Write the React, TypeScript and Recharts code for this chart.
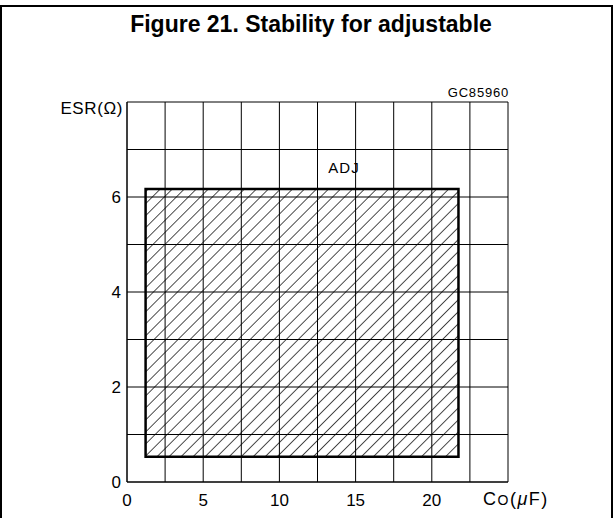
import React from 'react';
import { ComposedChart, Line, XAxis, YAxis, CartesianGrid, ReferenceArea } from 'recharts';

// grid positions (every grid line is an axis tick, only some carry a label)
const cTicks = [0, 2.5, 5, 7.5, 10, 12.5, 15, 17.5, 20, 22.5, 25];
const cLabels = [0, 5, 10, 15, 20];
const esrTicks = [0, 1, 2, 3, 4, 5, 6, 7, 8];
const esrLabels = [0, 2, 4, 6];

// stable region for the adjustable version
const stableC = [1.22, 21.75];
const stableEsr = [0.53, 6.17];

// outline of the region, walked corner by corner
const outline = [
  { c: stableC[0], esr: stableEsr[0] },
  { c: stableC[1], esr: stableEsr[0] },
  { c: stableC[1], esr: stableEsr[1] },
  { c: stableC[0], esr: stableEsr[1] },
  { c: stableC[0], esr: stableEsr[0] },
];

const W = 614;
const H = 518;
const FONT = '"Liberation Sans", Arial, sans-serif';

export default function App() {
  return (
    <div style={{ position: 'absolute', left: 0, top: 0, width: W, height: H, background: '#fff', overflow: 'hidden' }}>
      <svg width={0} height={0} style={{ position: 'absolute' }}>
        <defs>
          <pattern id="hatch" width={8.5} height={8.5} patternUnits="userSpaceOnUse" patternTransform="rotate(45)">
            <line x1={0} y1={0} x2={0} y2={8.5} stroke="#000" strokeWidth={1.4} />
          </pattern>
        </defs>
      </svg>

      {/* figure frame */}
      <div
        style={{
          position: 'absolute',
          left: 0,
          top: 5,
          width: 609,
          height: 520,
          borderTop: '2px solid #000',
          borderLeft: '2px solid #000',
          borderRight: '2px solid #000',
        }}
      />

      <ComposedChart
        width={W}
        height={H}
        data={outline}
        margin={{ top: 102, right: 106, bottom: 6, left: 97 }}
        style={{ position: 'absolute', left: 0, top: 0 }}
      >
        <CartesianGrid stroke="#000" strokeWidth={1} />
        <XAxis
          type="number"
          dataKey="c"
          domain={[0, 25]}
          ticks={cTicks}
          interval={0}
          height={30}
          tickSize={0}
          tickMargin={12}
          axisLine={{ stroke: '#000' }}
          tick={{ fill: '#000', fontSize: 17, fontFamily: FONT }}
          tickFormatter={(v: number) => (cLabels.includes(v) ? String(v) : '')}
        />
        <YAxis
          type="number"
          domain={[0, 8]}
          ticks={esrTicks}
          interval={0}
          width={30}
          tickSize={0}
          tickMargin={6}
          axisLine={{ stroke: '#000' }}
          tick={{ fill: '#000', fontSize: 17, fontFamily: FONT }}
          tickFormatter={(v: number) => (esrLabels.includes(v) ? String(v) : '')}
        />
        <ReferenceArea
          x1={stableC[0]}
          x2={stableC[1]}
          y1={stableEsr[0]}
          y2={stableEsr[1]}
          fill="url(#hatch)"
          fillOpacity={1}
          stroke="none"
          ifOverflow="visible"
        />
        <Line
          dataKey="esr"
          stroke="#000"
          strokeWidth={2.5}
          dot={false}
          activeDot={false}
          strokeLinejoin="miter"
          strokeLinecap="square"
          isAnimationActive={false}
        />
      </ComposedChart>

      {/* texts */}
      <svg width={W} height={H} style={{ position: 'absolute', left: 0, top: 0, pointerEvents: 'none' }}>
        <text x={311} y={32} textAnchor="middle" fontFamily={FONT} fontWeight="bold" fontSize={23} fill="#000">
          Figure 21. Stability for adjustable
        </text>
        <text x={509} y={97} textAnchor="end" fontFamily={FONT} fontSize={13} letterSpacing={0.8} fill="#000">
          GC85960
        </text>
        <text x={123} y={114} textAnchor="end" fontFamily={FONT} fontSize={17} letterSpacing={0.6} fill="#000">
          ESR(Ω)
        </text>
        <text x={344} y={173} textAnchor="middle" fontFamily={FONT} fontSize={15} letterSpacing={1} fill="#000">
          ADJ
        </text>
        <text x={483} y={505} fontFamily={FONT} fontSize={18} letterSpacing={1.5} fill="#000">
          C<tspan fontSize={14}>O</tspan>(<tspan fontStyle="italic">μ</tspan>F)
        </text>
      </svg>
    </div>
  );
}
